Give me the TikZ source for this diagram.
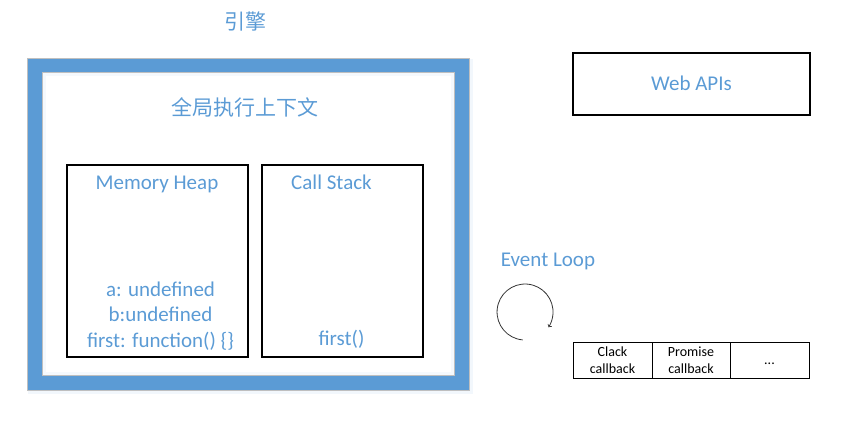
\documentclass[tikz,border=0pt]{standalone}
\usepackage{fontspec}
\setmainfont{Carlito}
\newfontfamily\cjk{Noto Sans CJK SC}
\definecolor{officeblue}{HTML}{5B9BD5}
\definecolor{edgegray}{HTML}{BFBFBF}
\begin{document}
\begin{tikzpicture}[x = 1pt, y = -1pt,
    txt/.style = {text = officeblue, inner sep = 0pt,
                  font = \fontsize{21}{25.5}\selectfont},
    cn/.style = {text = officeblue, inner sep = 0pt,
                 font = \cjk\fontsize{21}{25}\selectfont},
    box/.style = {draw, line width = 1.2pt, inner sep = 0pt},
    cell/.style = {draw, line width = 1pt, inner sep = 0pt,
                   minimum height = 36pt, align = center,
                   font = \fontsize{14}{16.5}\selectfont}]
  \useasboundingbox (0,0) rectangle (845,426);

  % engine frame
  \draw [line width = 4pt, opacity = .08, officeblue] (29.5,61) rectangle (471,392);
  \fill [officeblue, even odd rule] (27.5,58) rectangle (469.5,390)
                                    (42.3,72.7) rectangle (454.5,375);
  \draw [line width = 3pt, opacity = .06, officeblue] (44,74.5) rectangle (452.5,373);
  \draw [edgegray, line width = .8pt] (27.5,58) rectangle (469.5,390);
  \draw [edgegray, line width = .8pt] (42.3,72.7) rectangle (454.5,375);

  \node [cn] (engine) at (245,21.5) {引擎};
  \node [cn] (context) at (244.5,107) {全局执行上下文};

  \node [box, minimum width = 181pt, minimum height = 192pt] (heap) at (157.5,261) {};
  \node [box, minimum width = 161pt, minimum height = 192pt] (stack) at (342.5,261) {};
  \node [txt, anchor = base] (heaptitle) at (157,189) {Memory Heap};
  \node [txt, anchor = base] (stacktitle) at (331.5,189) {Call Stack};
  \node [txt, anchor = base] (vara) at (160.5,296) {a: undefined};
  \node [txt, anchor = base] (varb) at (160.5,321.5) {b:undefined};
  \node [txt, anchor = base] (varfirst) at (160.5,347) {first: function() \{\}};
  \node [txt, anchor = base] (callfirst) at (341.5,345.5) {first()};

  \node [box, minimum width = 237pt, minimum height = 62pt] (webapis) at (691.5,84) {};
  \node [txt, anchor = base] (webtitle) at (691.5,90) {Web APIs};

  \node [txt, anchor = base] (looptitle) at (548,266.5) {Event Loop};
  \draw [->, line width = .8pt, black!80] (522.6,339.9) arc [start angle = 95,
        end angle = 393, radius = 28];

  \node [cell, minimum width = 79pt] (clack) at (612.5,360) {Clack\\callback};
  \node [cell, minimum width = 78pt] (promise) at (691,360) {Promise\\callback};
  \node [cell, minimum width = 79pt] (more) at (769.5,360) {};
  \node [anchor = base, inner sep = 0pt, font = \fontsize{14}{16.5}\selectfont]
    (dots) at (769.5,364) {...};
\end{tikzpicture}
\end{document}
